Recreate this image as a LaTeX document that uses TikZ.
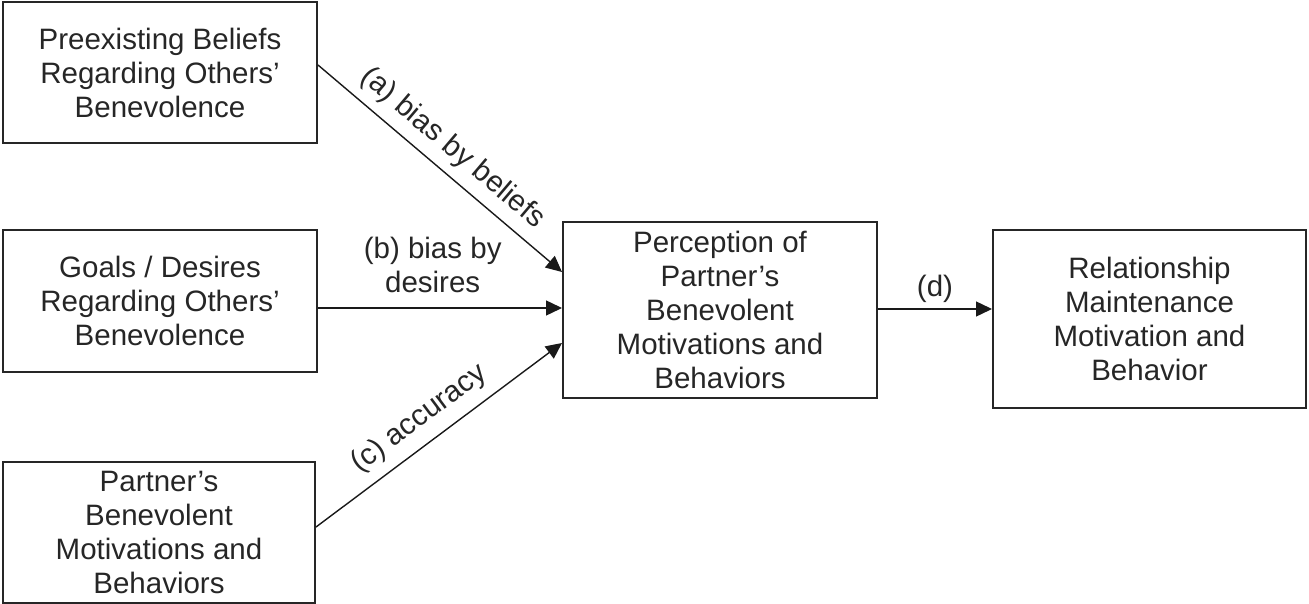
\documentclass[tikz,border=0pt]{standalone}
\usepackage{fontspec}
\setmainfont{Liberation Sans}
\usetikzlibrary{arrows.meta}
\begin{document}
\begin{tikzpicture}[x=1pt,y=-1pt,
  box/.style={draw=black!85, line width=2pt, rectangle, inner sep=0pt, align=center,
    font=\fontsize{29.5}{34}\selectfont, text=black!85},
  conn/.style={draw=black!90, line width=1.4pt, -{Triangle[length=16pt,width=15pt]}},
  lbl/.style={inner sep=0pt, font=\fontsize{29.5}{34}\selectfont, text=black!85, align=center}]
\useasboundingbox (0,0) rectangle (1309,604);
\node[box, minimum width=314pt, minimum height=141pt] (b1) at (160,72.5)
  {Preexisting Beliefs\\Regarding Others’\\Benevolence};
\node[box, minimum width=314pt, minimum height=142pt] (b2) at (160,301)
  {Goals / Desires\\Regarding Others’\\Benevolence};
\node[box, minimum width=312pt, minimum height=141pt] (b3) at (159,532)
  {Partner’s\\Benevolent\\Motivations and\\Behaviors};
\node[box, minimum width=314pt, minimum height=176pt] (pc) at (720,310)
  {Perception of\\Partner’s\\Benevolent\\Motivations and\\Behaviors};
\node[box, minimum width=313pt, minimum height=178pt] (rm) at (1149.5,319)
  {Relationship\\Maintenance\\Motivation and\\Behavior};
\draw[conn] ([yshift=7.5pt]b1.east) -- node[lbl, pos=0.49, sloped, above=9pt] {(a) bias by beliefs} ([yshift=38pt]pc.west);
\draw[conn] ([yshift=-7pt]b2.east) -- node[lbl, pos=0.47, above=15pt] {(b) bias by\\desires} ([yshift=2pt]pc.west);
\draw[conn] ([yshift=5pt]b3.east) -- node[lbl, pos=0.48, sloped, above=10.5pt] {(c) accuracy} ([yshift=-33pt]pc.west);
\draw[conn] ([yshift=1pt]pc.east) -- node[lbl, midway, above=5.5pt] {(d)} ([yshift=10pt]rm.west);
\end{tikzpicture}
\end{document}
